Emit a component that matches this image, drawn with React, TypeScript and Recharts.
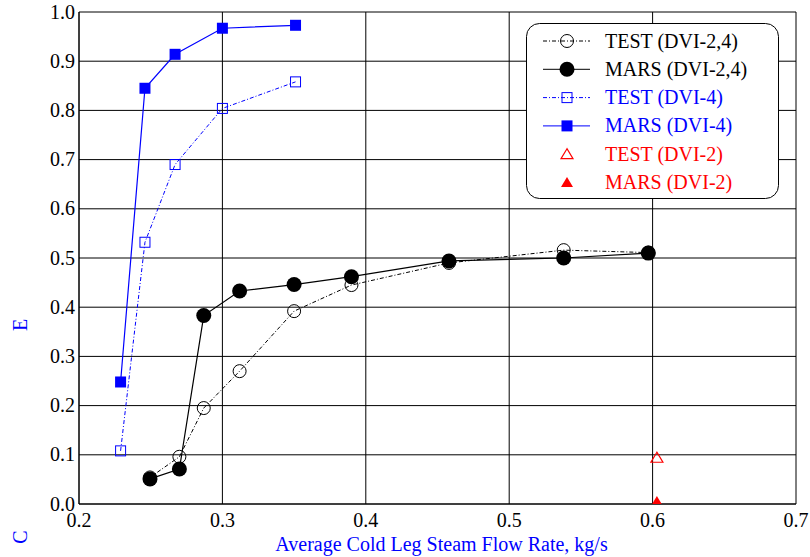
import React from "react";
import { ScatterChart, Scatter, XAxis, YAxis, CartesianGrid, Legend } from "recharts";

document.body.style.margin = "0";

// ticks
const X_TICKS = [0.2, 0.3, 0.4, 0.5, 0.6, 0.7];
const X_MINOR_TICKS = [
  0.2, 0.225, 0.25, 0.275, 0.3, 0.325, 0.35, 0.375, 0.4, 0.425, 0.45,
  0.475, 0.5, 0.525, 0.55, 0.575, 0.6, 0.625, 0.65, 0.675, 0.7,
];
const Y_TICKS = [0, 0.1, 0.2, 0.3, 0.4, 0.5, 0.6, 0.7, 0.8, 0.9, 1.0];
const Y_MINOR_TICKS = [
  0, 0.05, 0.1, 0.15, 0.2, 0.25, 0.3, 0.35, 0.4, 0.45, 0.5,
  0.55, 0.6, 0.65, 0.7, 0.75, 0.8, 0.85, 0.9, 0.95, 1.0,
];

// DVI-2,4
const flowDvi24 = [0.2495, 0.27, 0.287, 0.312, 0.35, 0.39, 0.458, 0.538, 0.597];
const testDvi24 = [0.054, 0.096, 0.195, 0.27, 0.392, 0.445, 0.49, 0.516, 0.511];
const marsDvi24 = [0.051, 0.071, 0.383, 0.433, 0.446, 0.462, 0.494, 0.5, 0.51];

// DVI-4
const flowDvi4 = [0.229, 0.246, 0.267, 0.3, 0.351];
const testDvi4 = [0.108, 0.532, 0.69, 0.804, 0.858];
const marsDvi4 = [0.248, 0.845, 0.914, 0.967, 0.973];

// DVI-2
const flowDvi2 = [0.603];
const testDvi2 = [0.094];
const marsDvi2 = [0.005];

const zip = (xs: number[], ys: number[]) => xs.map((x, i) => ({ x, y: ys[i] }));

const W = 810;
const H = 557;
const MARGIN = { top: 12, right: 14, bottom: 0, left: 0 };
const Y_AXIS_W = 79;
const X_AXIS_H = 53;
const PLOT_W = W - MARGIN.right - MARGIN.left - Y_AXIS_W;
const PLOT_H = H - MARGIN.top - MARGIN.bottom - X_AXIS_H;

const FONT = "Liberation Serif, Times New Roman, Times, serif";
const BLUE = "#0000ff";
const RED = "#ff0000";
const txt = { fontFamily: FONT };

const isMajor = (v: number) => Math.abs(v * 10 - Math.round(v * 10)) < 1e-6;

// markers
const openCircle = (p: any) => (
  <circle cx={p.cx} cy={p.cy} r={6.5} fill="none" stroke="#000" strokeWidth={1} />
);
const filledCircle = (p: any) => <circle cx={p.cx} cy={p.cy} r={7.5} fill="#000" />;
const openSquare = (p: any) => (
  <rect x={p.cx - 5} y={p.cy - 5} width={10} height={10} fill="none" stroke={BLUE} strokeWidth={1} />
);
const filledSquare = (p: any) => (
  <rect x={p.cx - 5.5} y={p.cy - 5.5} width={11} height={11} fill={BLUE} />
);
const openTriangle = (p: any) => (
  <polygon
    points={`${p.cx},${p.cy - 5.5} ${p.cx - 6},${p.cy + 4.5} ${p.cx + 6},${p.cy + 4.5}`}
    fill="none"
    stroke={RED}
    strokeWidth={1.2}
  />
);
const filledTriangle = (p: any) => (
  <polygon
    points={`${p.cx},${p.cy - 5.5} ${p.cx - 6},${p.cy + 4.5} ${p.cx + 6},${p.cy + 4.5}`}
    fill={RED}
  />
);

const LEGEND_ITEMS = [
  { label: "TEST (DVI-2,4)", color: "#000", dash: "4 2 1 2", line: true, shape: openCircle },
  { label: "MARS (DVI-2,4)", color: "#000", dash: undefined, line: true, shape: filledCircle },
  { label: "TEST (DVI-4)", color: BLUE, dash: "4 2 1 2", line: true, shape: openSquare },
  { label: "MARS (DVI-4)", color: BLUE, dash: undefined, line: true, shape: filledSquare },
  { label: "TEST (DVI-2)", color: RED, dash: undefined, line: false, shape: openTriangle },
  { label: "MARS (DVI-2)", color: RED, dash: undefined, line: false, shape: filledTriangle },
];

const renderLegend = () => (
  <svg width={254} height={177} style={{ display: "block" }}>
    <rect x={0.5} y={0.5} width={252} height={175} rx={13} fill="#fff" stroke="#000" strokeWidth={1} />
    {LEGEND_ITEMS.map((it, i) => {
      const cy = 18 + i * 28.3;
      return (
        <g key={it.label}>
          {it.line && (
            <line x1={17} x2={64} y1={cy} y2={cy} stroke={it.color} strokeWidth={1} strokeDasharray={it.dash} />
          )}
          {it.shape({ cx: 41, cy })}
          <text x={79} y={cy + 6.5} fontSize={20} style={txt} fill={it.color}>
            {it.label}
          </text>
        </g>
      );
    })}
  </svg>
);

const BottomLabel = (p: any) => (
  <text x={p.x} y={p.y + 23} textAnchor="middle" fontSize={20} style={txt} fill="#000">
    {Number(p.payload.value).toFixed(1)}
  </text>
);

const LeftLabel = (p: any) => (
  <text x={p.x - 4} y={p.y + 6.5} textAnchor="end" fontSize={20} style={txt} fill="#000">
    {Number(p.payload.value).toFixed(1)}
  </text>
);

// top axis draws the inward tick marks on top and bottom
const XTickMarks = (p: any) => {
  const len = isMajor(p.payload.value) ? 8 : 5;
  return (
    <g>
      <line x1={p.x} x2={p.x} y1={p.y} y2={p.y + len} stroke="#000" />
      <line x1={p.x} x2={p.x} y1={p.y + PLOT_H} y2={p.y + PLOT_H - len} stroke="#000" />
    </g>
  );
};

// right axis draws the inward tick marks on right and left
const YTickMarks = (p: any) => {
  const len = isMajor(p.payload.value) ? 8 : 6;
  return (
    <g>
      <line x1={p.x} x2={p.x - len} y1={p.y} y2={p.y} stroke="#000" />
      <line x1={p.x - PLOT_W} x2={p.x - PLOT_W + len} y1={p.y} y2={p.y} stroke="#000" />
    </g>
  );
};

const XTitle = (p: any) => {
  const vb = p.viewBox;
  return (
    <text x={vb.x + vb.width / 2 + 4} y={vb.y + 47} textAnchor="middle" fontSize={20} style={txt} fill={BLUE}>
      Average Cold Leg Steam Flow Rate, kg/s
    </text>
  );
};

const YTitle = () => (
  <g fontSize={20} fill={BLUE} style={txt}>
    <text x={20} y={325} transform="rotate(-90 20 325)" textAnchor="middle" dominantBaseline="central">
      E
    </text>
    <text x={20} y={537} transform="rotate(-90 20 537)" textAnchor="middle" dominantBaseline="central">
      C
    </text>
  </g>
);

export default function App() {
  return (
    <div style={{ width: W, height: H, fontFamily: FONT, position: "relative" }}>
      <ScatterChart width={W} height={H} margin={MARGIN}>
        <CartesianGrid stroke="#000" strokeWidth={1} />
        <XAxis
          type="number"
          dataKey="x"
          domain={[0.2, 0.7]}
          ticks={X_TICKS}
          interval={0}
          height={X_AXIS_H}
          tickSize={0}
          tickMargin={0}
          tick={BottomLabel}
          axisLine={{ stroke: "#000" }}
          label={<XTitle />}
          allowDataOverflow
        />
        <XAxis
          xAxisId="top"
          orientation="top"
          type="number"
          domain={[0.2, 0.7]}
          ticks={X_MINOR_TICKS}
          interval={0}
          height={0}
          tickSize={0}
          tickMargin={0}
          tick={XTickMarks}
          axisLine={{ stroke: "#000" }}
          allowDataOverflow
        />
        <YAxis
          type="number"
          dataKey="y"
          domain={[0, 1]}
          ticks={Y_TICKS}
          interval={0}
          width={Y_AXIS_W}
          tickSize={0}
          tickMargin={0}
          tick={LeftLabel}
          axisLine={{ stroke: "#000" }}
          label={<YTitle />}
          allowDataOverflow
        />
        <YAxis
          yAxisId="right"
          orientation="right"
          type="number"
          domain={[0, 1]}
          ticks={Y_MINOR_TICKS}
          interval={0}
          width={0}
          tickSize={0}
          tickMargin={0}
          tick={YTickMarks}
          axisLine={{ stroke: "#000" }}
          allowDataOverflow
        />
        <Legend
          layout="horizontal"
          verticalAlign="middle"
          align="center"
          content={renderLegend}
          wrapperStyle={{ position: "absolute", left: 526, top: 23, width: 254, height: 177 }}
        />
        <Scatter
          name="TEST (DVI-4)"
          data={zip(flowDvi4, testDvi4)}
          fill={BLUE}
          line={{ stroke: BLUE, strokeWidth: 1, strokeDasharray: "4 2 1 2" }}
          lineType="joint"
          shape={openSquare}
          isAnimationActive={false}
        />
        <Scatter
          name="MARS (DVI-4)"
          data={zip(flowDvi4, marsDvi4)}
          fill={BLUE}
          line={{ stroke: BLUE, strokeWidth: 1.2 }}
          lineType="joint"
          shape={filledSquare}
          isAnimationActive={false}
        />
        <Scatter
          name="TEST (DVI-2,4)"
          data={zip(flowDvi24, testDvi24)}
          fill="#000"
          line={{ stroke: "#000", strokeWidth: 1, strokeDasharray: "4 2 1 2" }}
          lineType="joint"
          shape={openCircle}
          isAnimationActive={false}
        />
        <Scatter
          name="MARS (DVI-2,4)"
          data={zip(flowDvi24, marsDvi24)}
          fill="#000"
          line={{ stroke: "#000", strokeWidth: 1.2 }}
          lineType="joint"
          shape={filledCircle}
          isAnimationActive={false}
        />
        <Scatter
          name="TEST (DVI-2)"
          data={zip(flowDvi2, testDvi2)}
          fill={RED}
          shape={openTriangle}
          isAnimationActive={false}
        />
        <Scatter
          name="MARS (DVI-2)"
          data={zip(flowDvi2, marsDvi2)}
          fill={RED}
          shape={filledTriangle}
          isAnimationActive={false}
        />
      </ScatterChart>
    </div>
  );
}
